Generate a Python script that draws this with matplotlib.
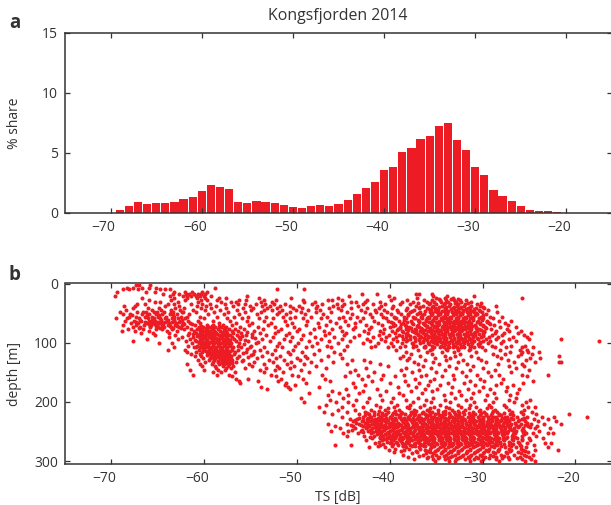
import numpy as np
import matplotlib
matplotlib.use('Agg')
import matplotlib.pyplot as plt
from matplotlib.transforms import ScaledTranslation

# histogram, % share per 1 dB bin
ts_bins = list(range(-69, -17))
share = [0.25, 0.58, 0.92, 0.75, 0.83, 0.83, 0.92, 1.17, 1.33, 1.83, 2.33, 2.17, 2.0,
         0.92, 0.83, 1.0, 0.92, 0.83, 0.67, 0.5, 0.42, 0.58, 0.67, 0.58, 0.75, 1.08,
         1.58, 2.08, 2.58, 3.58, 3.83, 5.08, 5.42, 6.17, 6.42, 7.25, 7.5, 6.08, 5.25,
         3.83, 3.17, 1.92, 1.42, 1.0, 0.58, 0.25, 0.17, 0.17, 0.08, 0.02, 0.02, 0.02]

# scatter, read row by row: one depth, the TS values seen around it
depth_top = [3, 7, 10, 14, 17, 21, 24, 28, 31, 35, 38, 42, 45, 49, 52, 56, 59, 63, 66, 70,
             73, 77, 80, 84]
ts_top = [
    [-67.4, -67.0, -65.8],
    [-68.3, -67.7, -66.7, -66.0, -65.2, -58.8],
    [-68.7, -68.1, -67.1, -64.8, -64.2, -63.7, -52.1, -49.2],
    [-69.4, -66.3, -65.3, -63.2, -62.1, -61.3, -60.2, -59.7],
    [-64.4, -63.4, -62.7, -62.0, -61.6, -61.1, -60.7, -60.3, -59.9, -43.0, -41.4, -37.2, -36.9, -35.5],
    [-69.6, -63.7, -62.3, -61.9, -61.4, -60.9, -60.5, -60.0, -59.3, -55.4, -44.4, -40.1, -35.3, -33.8, -30.9],
    [-66.7, -63.2, -61.8, -60.8, -59.9, -58.4, -57.7, -54.1, -50.6, -45.6, -39.5, -37.1, -35.0, -34.1, -33.2, -25.7],
    [-65.9, -63.6, -62.1, -60.3, -59.7, -58.6, -56.3, -55.5, -53.6, -52.3, -49.4, -46.7, -46.2, -45.2, -42.5, -39.9, -38.1, -36.3, -35.4, -34.6, -33.9, -33.1, -32.4, -31.8],
    [-65.3, -64.8, -62.8, -60.7, -58.2, -57.1, -56.6, -53.9, -52.7, -49.2, -48.1, -44.2, -43.6, -42.7, -41.0, -38.7, -37.5, -36.0, -35.2, -34.5, -33.7, -32.9, -32.3, -31.2],
    [-67.2, -66.4, -63.9, -63.2, -61.4, -60.2, -59.4, -57.8, -56.4, -55.6, -54.4, -53.4, -52.5, -51.3, -48.4, -47.3, -45.7, -44.9, -42.9, -41.8, -40.5, -38.9, -37.8, -35.8, -35.0, -34.2, -33.5, -32.7, -31.9, -30.6],
    [-68.6, -67.5, -64.2, -62.7, -60.8, -59.8, -58.7, -56.9, -55.1, -53.8, -52.9, -51.8, -50.8, -49.8, -47.8, -46.1, -45.1, -43.4, -40.9, -39.6, -37.2, -36.4, -35.3, -34.4, -33.6, -32.8, -32.0, -31.2, -30.3, -28.6],
    [-67.7, -66.1, -64.9, -63.1, -62.2, -60.3, -59.3, -57.6, -55.8, -54.7, -53.2, -52.1, -50.4, -49.5, -48.0, -46.6, -45.6, -44.2, -42.4, -41.2, -39.8, -38.1, -36.9, -36.0, -35.1, -34.1, -33.2, -32.4, -31.6, -30.7, -29.8],
    [-68.4, -65.6, -64.7, -63.6, -62.6, -61.2, -59.9, -58.3, -56.5, -55.0, -53.6, -52.7, -51.6, -50.1, -48.8, -47.5, -45.3, -43.1, -41.6, -40.6, -39.2, -38.3, -37.4, -35.6, -34.8, -33.9, -33.0, -32.1, -31.3, -30.4, -29.4],
    [-69.1, -67.2, -66.3, -65.4, -64.3, -63.4, -62.4, -60.9, -58.9, -57.4, -55.6, -53.9, -51.9, -50.7, -49.6, -47.9, -46.3, -44.6, -42.7, -41.5, -40.3, -39.1, -37.8, -36.7, -35.7, -34.9, -34.0, -33.3, -32.5, -31.7, -30.9, -30.1, -28.4],
    [-68.7, -68.0, -66.7, -65.9, -65.2, -64.6, -63.7, -62.9, -61.6, -59.6, -57.9, -56.2, -54.3, -52.2, -51.2, -49.1, -47.2, -44.1, -42.1, -40.9, -39.9, -38.8, -38.0, -37.1, -36.3, -35.5, -34.6, -33.8, -32.9, -32.2, -31.4, -30.6, -29.6],
    [-68.1, -67.4, -66.4, -65.6, -65.0, -64.1, -63.3, -62.5, -61.9, -60.4, -58.6, -56.8, -55.3, -53.3, -51.5, -50.2, -48.5, -46.8, -45.0, -43.5, -41.9, -40.7, -39.5, -38.5, -37.5, -36.6, -35.9, -35.1, -34.3, -33.5, -32.7, -31.9, -31.1, -30.2, -29.2, -27.9],
    [-69.5, -68.3, -67.0, -66.1, -65.4, -64.8, -64.2, -63.5, -62.8, -62.1, -60.0, -57.5, -55.9, -54.1, -52.6, -50.8, -49.3, -47.4, -45.5, -44.3, -42.9, -40.4, -39.3, -38.2, -37.3, -36.5, -35.8, -35.0, -34.1, -33.4, -32.6, -31.8, -31.0, -30.0, -28.9],
    [-68.5, -67.6, -66.8, -66.0, -65.3, -64.7, -64.0, -63.2, -62.6, -61.7, -60.7, -59.0, -57.2, -55.4, -53.5, -51.3, -48.9, -46.4, -44.8, -43.2, -41.7, -40.2, -39.0, -37.7, -36.8, -36.1, -35.4, -34.7, -33.8, -33.1, -32.3, -31.5, -30.5, -29.5, -28.2, -26.9],
    [-67.9, -67.1, -66.2, -65.5, -64.9, -64.4, -63.8, -63.0, -62.3, -61.5, -60.5, -58.4, -56.6, -54.8, -52.8, -50.5, -47.7, -45.8, -43.8, -41.3, -39.7, -38.6, -37.6, -36.4, -35.6, -34.9, -34.2, -33.6, -32.8, -32.0, -31.2, -30.3, -29.3, -27.6],
    [-68.8, -67.3, -66.5, -65.7, -65.1, -64.5, -63.9, -63.1, -62.4, -61.0, -59.7, -59.1, -58.0, -57.0, -55.2, -53.1, -51.1, -49.0, -46.9, -44.5, -42.6, -40.8, -39.4, -38.4, -37.0, -36.2, -35.5, -34.8, -34.0, -33.2, -32.4, -31.6, -30.8, -29.9, -28.8, -27.3],
    [-67.7, -66.9, -65.8, -65.0, -64.3, -63.6, -62.7, -61.8, -60.6, -60.1, -59.5, -58.8, -58.2, -57.6, -56.1, -54.2, -52.4, -50.3, -47.6, -45.4, -43.7, -42.0, -40.0, -38.9, -37.9, -36.8, -36.0, -35.2, -34.4, -33.7, -33.0, -32.2, -31.5, -30.7, -29.7, -28.1, -26.4],
    [-68.2, -66.6, -65.2, -64.6, -63.5, -62.2, -61.4, -60.8, -60.2, -59.7, -59.2, -58.5, -57.9, -57.3, -56.7, -55.7, -53.7, -51.7, -49.8, -48.2, -46.2, -44.0, -42.2, -40.6, -39.1, -38.3, -37.3, -36.5, -35.7, -34.9, -34.2, -33.4, -32.6, -31.9, -31.2, -30.4, -29.1, -27.4],
    [-68.9, -67.5, -65.9, -64.0, -62.9, -61.1, -60.4, -59.9, -59.4, -58.9, -58.3, -57.7, -57.0, -56.4, -54.6, -52.0, -50.0, -47.1, -45.1, -42.8, -41.1, -39.8, -38.7, -37.6, -36.7, -35.9, -35.1, -34.5, -33.8, -33.1, -32.3, -31.4, -30.6, -29.8, -28.6, -27.1, -25.9],
    [-66.8, -65.5, -63.8, -61.6, -60.9, -60.3, -59.8, -59.3, -58.7, -58.1, -57.5, -56.9, -56.0, -54.0, -52.4, -50.9, -48.6, -46.5, -44.7, -42.3, -40.7, -39.4, -38.1, -37.2, -36.4, -35.6, -34.8, -34.1, -33.3, -32.5, -31.7, -30.9, -30.0, -28.7, -27.7, -26.2, -24.8],
]

depth_mid = [87, 91, 94, 98, 101, 105, 108, 112, 115, 119, 122, 126, 129, 133, 136, 140,
             143, 147, 150, 154, 157, 161, 164, 168, 171, 175, 178, 182, 185, 189]
ts_mid = [
    [-65.3, -63.1, -61.7, -60.7, -60.1, -59.6, -59.0, -58.4, -57.8, -57.2, -56.5, -55.5, -53.3, -51.2, -49.3, -47.0, -44.9, -43.3, -41.2, -40.1, -39.0, -38.0, -37.0, -36.2, -35.4, -34.7, -34.0, -33.2, -32.4, -31.6, -30.8, -30.0, -29.0, -27.9, -25.5],
    [-63.8, -62.4, -61.2, -60.5, -59.9, -59.4, -58.9, -58.3, -57.6, -57.0, -56.3, -54.8, -52.6, -50.5, -48.1, -46.0, -43.9, -41.8, -40.4, -39.3, -38.3, -37.4, -36.6, -35.8, -35.0, -34.3, -33.5, -32.7, -31.9, -31.0, -30.2, -29.3, -28.3, -26.7, -25.2],
    [-66.2, -62.8, -61.5, -60.2, -59.7, -59.2, -58.6, -58.0, -57.4, -56.8, -56.1, -53.8, -51.4, -49.6, -47.4, -45.2, -42.5, -40.9, -39.6, -38.6, -37.8, -36.9, -36.1, -35.3, -34.6, -33.9, -33.1, -32.2, -31.3, -30.5, -29.6, -28.5, -27.2, -25.0, -21.6],
    [-67.7, -62.0, -60.9, -60.3, -59.8, -59.1, -58.5, -57.9, -57.3, -56.6, -55.3, -52.9, -50.7, -48.7, -46.5, -44.3, -42.1, -40.5, -39.2, -38.2, -37.3, -36.4, -35.6, -34.8, -34.0, -33.3, -32.5, -31.7, -30.9, -30.0, -29.2, -27.8, -26.4, -17.5],
    [-64.9, -63.5, -61.3, -60.6, -60.0, -59.5, -58.9, -58.2, -57.7, -57.1, -56.2, -54.4, -51.9, -49.9, -47.8, -45.6, -42.9, -41.3, -39.9, -38.7, -37.6, -36.7, -35.9, -35.1, -34.3, -33.6, -32.8, -32.0, -31.1, -30.3, -29.4, -28.0],
    [-61.7, -60.8, -60.1, -59.6, -59.0, -58.4, -57.8, -57.2, -56.4, -55.0, -52.2, -50.2, -48.4, -46.8, -44.6, -41.6, -39.7, -38.4, -37.2, -36.2, -35.4, -34.5, -33.7, -33.0, -32.1, -31.2, -30.4, -29.0, -26.9, -25.4],
    [-63.3, -61.1, -60.4, -59.8, -59.3, -58.7, -58.1, -57.5, -56.9, -56.0, -53.6, -51.6, -49.0, -46.3, -42.0, -40.2, -38.9, -37.5, -36.3, -35.2, -34.2, -33.2, -32.3, -31.4, -30.1, -28.7, -27.5, -25.8, -24.6],
    [-63.9, -62.1, -60.6, -60.0, -59.5, -58.8, -58.3, -57.7, -57.0, -56.4, -54.0, -52.4, -50.4, -47.6, -44.9, -39.3, -37.0, -35.7, -33.8, -32.6, -31.5, -29.7, -28.1, -26.0, -25.2],
    [-61.9, -60.9, -60.2, -59.7, -59.1, -58.6, -58.0, -57.4, -56.7, -55.5, -53.2, -51.0, -49.5, -46.0, -38.2, -36.0, -34.4, -33.1, -30.7, -27.0, -25.7, -25.1, -23.9],
    [-61.4, -60.5, -59.6, -59.0, -58.4, -57.9, -57.3, -56.8, -54.7, -52.7, -50.7, -48.2, -45.4, -37.7, -35.5, -32.4, -28.9, -27.6, -25.9, -24.7],
    [-61.0, -60.3, -59.3, -58.7, -58.2, -57.6, -57.1, -56.3, -53.8, -51.8, -49.1, -46.7, -38.6, -36.7, -34.1, -33.0, -31.2, -28.4, -26.2, -21.8],
    [-60.1, -59.4, -58.8, -58.3, -57.8, -57.2, -56.5, -54.3, -52.3, -50.0, -48.9, -45.2, -38.9, -37.9, -35.1, -33.5, -30.5, -28.0, -24.9, -23.8],
    [-60.7, -59.5, -58.9, -58.1, -57.5, -57.0, -55.8, -53.0, -51.4, -49.7, -47.4, -44.1, -42.8, -38.1, -36.2, -33.9, -32.1, -30.2, -27.3, -25.3],
    [-59.9, -59.1, -58.5, -57.7, -57.2, -56.6, -54.6, -52.6, -50.6, -48.5, -46.1, -42.1, -37.4, -35.3, -32.7, -29.6, -26.6, -24.3, -21.8, -21.5],
    [-61.8, -60.4, -59.2, -58.4, -57.9, -57.3, -55.2, -53.5, -51.1, -49.2, -44.6, -41.0, -37.0, -34.7, -31.7, -28.3, -25.8],
    [-60.2, -58.8, -58.0, -57.4, -56.9, -54.9, -52.1, -50.3, -47.9, -40.2, -36.4, -33.6, -31.0, -27.1, -25.5],
    [-58.7, -57.6, -57.1, -55.6, -53.3, -51.9, -50.8, -46.9, -42.6, -38.3, -35.6, -32.9, -30.0, -26.4],
    [-61.5, -60.0, -58.5, -57.8, -54.0, -52.4, -49.6, -43.8, -38.8, -36.9, -34.0, -31.4, -28.7, -25.0],
    [-59.0, -58.2, -56.7, -53.6, -51.5, -48.7, -44.3, -41.7, -37.6, -35.0, -32.2, -29.4, -26.9],
    [-61.2, -58.6, -57.3, -52.8, -50.5, -47.3, -43.4, -40.7, -38.5, -36.1, -33.2, -30.6, -28.2, -23.0, -25.7],
    [-57.0, -52.3, -49.9, -44.8, -42.3, -39.4, -36.6, -34.4, -31.8, -29.1, -25.2],
    [-56.6, -55.3, -51.7, -49.4, -47.0, -43.0, -40.9, -37.3, -35.2, -33.1, -30.3, -27.8],
    [-56.2, -54.2, -52.0, -46.4, -41.9, -38.4, -35.7, -31.3, -29.8, -24.6],
    [-56.1, -51.2, -49.0, -44.0, -40.0, -36.8, -33.7, -32.0, -28.0, -25.6],
    [-51.3, -50.2, -42.7, -38.0, -35.9, -34.6, -30.8, -28.5, -26.7],
    [-53.9, -51.0, -47.6, -43.7, -39.1, -37.2, -33.3, -29.9, -27.4],
    [-53.2, -50.8, -44.7, -41.4, -36.2, -34.9, -31.6, -29.2, -26.1],
    [-46.2, -42.9, -40.4, -37.7, -35.4, -32.5, -30.4, -27.5],
    [-48.7, -45.5, -43.3, -39.0, -36.5, -33.4, -31.0, -28.8, -26.3],
    [-46.7, -44.5, -41.1, -38.6, -34.2, -32.3, -29.5, -27.0],
]

depth_deep = [193, 197, 201, 205, 209, 213, 217, 221, 225, 229, 233, 237, 241, 245, 249, 253,
              257, 261, 265, 269, 273, 277, 281, 285, 289, 293, 297, 300]
ts_deep = [
    [-49.6, -45.0, -42.2, -39.6, -37.0, -35.3, -33.0, -31.2, -28.6, -26.4],
    [-46.4, -43.6, -40.8, -38.2, -36.1, -34.0, -31.8, -29.7, -27.2, -24.9],
    [-49.2, -45.8, -44.5, -42.4, -39.9, -37.5, -35.6, -33.5, -30.9, -28.9, -26.6, -25.3],
    [-46.9, -44.0, -41.5, -39.2, -37.8, -36.3, -34.6, -32.6, -31.4, -29.3, -27.7, -25.7],
    [-47.6, -45.2, -42.9, -41.0, -39.5, -38.1, -36.7, -35.2, -33.9, -32.3, -30.7, -29.1, -27.5, -25.1, -24.3],
    [-45.6, -43.8, -42.0, -40.5, -39.0, -37.4, -36.0, -34.8, -33.3, -31.9, -30.3, -28.7, -27.1, -25.5],
    [-47.1, -44.6, -42.7, -41.7, -40.2, -38.8, -37.7, -36.4, -35.5, -34.3, -33.1, -32.1, -31.0, -29.8, -28.4, -26.8, -25.9, -24.7],
    [-46.2, -43.3, -42.2, -41.3, -40.4, -39.3, -38.4, -37.3, -36.2, -35.1, -34.1, -33.0, -32.0, -30.8, -29.6, -28.2, -27.0, -25.6, -24.2, -20.7],
    [-45.1, -42.9, -42.0, -41.1, -40.0, -39.0, -38.0, -37.0, -36.0, -35.3, -34.5, -33.6, -32.7, -31.6, -30.5, -29.4, -28.6, -27.4, -26.3, -25.2, -18.7, -22.3, -23.6],
    [-44.3, -43.5, -42.5, -41.6, -40.7, -39.8, -38.8, -37.9, -37.1, -36.3, -35.4, -34.6, -33.7, -32.9, -32.0, -31.1, -30.2, -29.3, -28.4, -27.6, -26.7, -25.8, -24.5, -22.9],
    [-44.0, -43.0, -42.1, -41.4, -40.5, -39.6, -38.6, -37.6, -36.7, -35.9, -35.0, -34.2, -33.3, -32.4, -31.5, -30.7, -29.9, -29.0, -28.1, -27.2, -26.2, -25.4, -24.0, -22.1],
    [-46.7, -44.6, -43.3, -42.4, -41.8, -41.0, -40.1, -39.3, -38.4, -37.5, -36.5, -35.6, -34.8, -33.9, -33.0, -32.2, -31.4, -30.4, -29.5, -28.7, -27.8, -26.9, -25.9, -24.8, -21.6, -23.4],
    [-45.9, -44.0, -42.9, -42.2, -41.5, -40.7, -39.9, -39.1, -38.2, -37.2, -36.4, -35.5, -34.7, -33.8, -33.1, -32.3, -31.3, -30.5, -29.7, -28.8, -27.9, -27.0, -26.1, -25.1, -24.1],
    [-45.4, -43.7, -42.6, -41.9, -41.2, -40.4, -39.5, -38.7, -37.9, -37.0, -36.1, -35.2, -34.4, -33.5, -32.7, -31.9, -31.0, -30.1, -29.3, -28.5, -27.6, -26.6, -25.6, -24.4, -22.7],
    [-46.3, -44.5, -43.1, -42.3, -41.5, -40.8, -40.0, -39.2, -38.3, -37.4, -36.6, -35.8, -34.9, -34.0, -33.2, -32.4, -31.6, -30.7, -29.8, -28.9, -28.0, -27.3, -26.4, -25.5, -23.9],
    [-45.0, -43.4, -42.0, -41.2, -40.3, -39.5, -38.5, -37.7, -36.8, -35.9, -35.1, -34.3, -33.4, -32.6, -31.7, -30.9, -30.0, -29.2, -28.3, -27.4, -26.5, -25.3, -24.6, -23.0, -22.4],
    [-44.6, -42.8, -41.7, -40.9, -40.1, -39.3, -38.4, -37.5, -36.6, -35.7, -34.8, -34.0, -33.1, -32.2, -31.3, -30.4, -29.6, -28.7, -27.8, -26.8, -25.7, -24.2],
    [-41.9, -41.1, -40.2, -39.4, -38.6, -37.8, -36.9, -36.0, -35.2, -34.4, -33.5, -32.7, -31.8, -30.9, -30.0, -29.1, -28.2, -27.5, -26.3, -25.0, -23.5],
    [-42.6, -40.8, -39.7, -38.9, -37.6, -36.7, -35.8, -34.7, -33.8, -33.0, -32.1, -31.2, -30.3, -29.4, -28.6, -27.7, -26.7, -25.8, -24.9],
    [-41.6, -40.0, -38.7, -37.3, -36.3, -35.5, -34.5, -33.6, -32.8, -31.9, -31.1, -30.2, -29.3, -28.1, -27.0, -26.1, -25.2, -23.3, -22.6],
    [-45.9, -44.2, -41.0, -39.1, -37.8, -36.5, -35.4, -34.2, -33.3, -32.5, -31.5, -30.6, -29.5, -28.4, -27.2, -26.0, -24.5],
    [-42.2, -40.5, -38.3, -36.9, -35.6, -34.6, -33.7, -32.9, -32.0, -31.0, -29.9, -28.8, -27.6, -26.4, -25.3, -22.9],
    [-40.1, -38.5, -36.2, -34.9, -34.1, -33.2, -32.3, -31.4, -30.5, -29.6, -28.3, -26.9, -25.6, -24.4, -21.9],
    [-39.5, -37.1, -35.7, -34.4, -33.4, -32.6, -31.7, -30.8, -29.8, -28.9, -27.5, -26.2, -25.1],
    [-38.6, -36.4, -35.0, -33.9, -33.0, -32.1, -31.2, -30.3, -29.2, -28.0, -26.6, -25.5, -24.6],
    [-38.0, -35.9, -34.7, -33.5, -32.4, -31.6, -30.7, -29.7, -28.6, -27.3, -26.0, -25.0],
    [-37.4, -35.3, -34.1, -32.9, -31.9, -30.9, -29.9, -28.5, -27.1, -25.8, -24.8],
    [-35.1, -33.6, -33.0, -31.4, -30.2, -28.2, -25.4, -24.4],
]

# second pass over the dense patches, between the rows above
depth_left = [48, 54, 61, 64.5, 68, 71.5, 75, 82, 86, 89.5, 92.5, 96, 99.5, 103, 106.5, 110, 113.5, 117, 120.5, 124, 127.5, 131, 135]
ts_left = [
    [-66.6, -65.1, -63.6, -62.3],
    [-67.8, -66.2, -64.9, -63.4],
    [-66.9, -65.6, -64.7, -63.9, -63.2, -62.4],
    [-67.3, -66.4, -65.7, -65.0, -64.2, -63.5, -62.7],
    [-66.0, -65.3, -64.6, -63.8, -63.0, -62.2, -61.3],
    [-65.8, -65.2, -64.4, -63.7, -62.9, -60.3, -59.2, -58.4],
    [-67.0, -64.8, -63.4, -62.5, -60.6, -59.8, -59.0, -57.8],
    [-60.2, -59.6, -58.8, -58.0, -55.4],
    [-61.2, -60.4, -59.8, -59.2, -58.6, -57.9, -54.8],
    [-60.8, -60.2, -59.5, -58.9, -58.1, -57.5, -55.9],
    [-60.5, -59.9, -59.3, -58.7, -58.2, -57.6, -54.5],
    [-61.0, -60.4, -59.7, -59.0, -58.4, -57.8, -57.2, -55.6],
    [-60.6, -60.0, -59.4, -58.8, -58.0, -57.4, -54.2],
    [-60.3, -59.8, -59.1, -58.5, -57.9, -57.3, -55.7],
    [-60.9, -60.2, -59.6, -58.9, -58.3, -57.6, -57.0, -55.1],
    [-60.1, -59.3, -58.7, -58.1, -57.5, -55.4],
    [-59.8, -59.0, -58.4, -57.9, -57.2, -54.6],
    [-59.4, -58.8, -58.2, -57.6, -55.8],
    [-59.7, -59.1, -58.5, -57.7, -57.3, -55.0],
    [-59.2, -58.6, -58.0, -57.4, -55.3],
    [-58.9, -58.3, -57.8, -57.1],
    [-58.5, -57.9, -57.4, -55.9],
    [-58.2, -57.6, -57.0],
]

depth_upper = [26, 33, 40, 43.5, 47, 50.5, 54, 57.5, 61, 64.5, 68, 71.5, 75, 78.5, 82, 85.5, 89, 92.5, 96, 99.5, 103, 106.5, 110]
ts_upper = [
    [-34.7, -33.4, -32.6],
    [-37.0, -35.7, -34.0, -33.0, -31.6, -30.2],
    [-36.7, -35.5, -34.7, -33.9, -33.1, -32.3, -31.4, -30.0],
    [-35.8, -34.9, -34.1, -33.4, -32.6, -31.8, -30.9],
    [-37.6, -36.2, -35.1, -34.4, -33.7, -32.9, -32.1, -31.2, -30.3],
    [-36.9, -35.4, -34.6, -33.8, -33.0, -32.2, -31.5, -30.7],
    [-38.0, -36.5, -35.6, -34.8, -34.0, -33.2, -32.4, -31.6, -30.8, -29.9],
    [-39.4, -37.4, -36.0, -35.2, -34.5, -33.7, -32.9, -32.1, -31.3, -30.4],
    [-38.5, -37.0, -36.1, -35.3, -34.4, -33.6, -32.8, -32.0, -31.0, -30.1],
    [-39.9, -38.1, -36.8, -35.8, -35.0, -34.2, -33.4, -32.5, -31.7, -30.6, -29.5],
    [-38.8, -37.5, -36.3, -35.5, -34.7, -33.9, -33.1, -32.3, -31.4, -30.3, -29.2],
    [-39.6, -38.2, -37.1, -36.0, -35.1, -34.3, -33.5, -32.7, -31.9, -31.1, -30.0],
    [-38.9, -37.7, -36.6, -35.7, -34.9, -34.0, -33.2, -32.4, -31.6, -30.7, -29.6],
    [-39.2, -38.0, -37.2, -36.2, -35.4, -34.6, -33.8, -33.0, -32.2, -31.3, -30.2],
    [-38.6, -37.4, -36.5, -35.6, -34.8, -34.1, -33.3, -32.5, -31.7, -30.8, -29.8],
    [-38.3, -37.0, -36.1, -35.2, -34.4, -33.6, -32.8, -32.0, -31.2, -30.4],
    [-38.7, -37.8, -36.7, -35.9, -35.1, -34.3, -33.5, -32.6, -31.8, -31.0, -29.9],
    [-37.3, -36.3, -35.5, -34.7, -33.9, -33.1, -32.3, -31.5, -30.6],
    [-38.1, -36.9, -36.0, -35.0, -34.2, -33.4, -32.7, -31.9, -31.1],
    [-36.4, -35.3, -34.5, -33.7, -32.9, -32.1, -31.2, -30.3],
    [-37.5, -35.8, -34.9, -34.0, -33.2, -32.4, -31.6, -30.5],
    [-36.2, -34.6, -33.6, -32.8, -32.0, -30.9],
    [-35.4, -33.9, -32.6, -31.4],
]

depth_core = [211, 215, 219, 223, 227, 231, 235, 239, 243, 247, 251, 255, 259, 263, 267, 271, 275, 279, 283, 287, 291, 295]
ts_core = [
    [-40.2, -37.9, -35.7, -33.6, -31.5, -29.5],
    [-41.2, -39.4, -37.2, -35.8, -34.0, -32.6, -30.4, -28.9],
    [-42.4, -40.8, -39.6, -38.7, -37.5, -36.5, -35.7, -34.8, -33.6, -32.5, -31.5, -30.2, -29.0, -27.7],
    [-42.7, -41.7, -40.8, -39.8, -38.9, -37.8, -36.8, -35.7, -34.7, -33.5, -32.5, -31.4, -30.3, -29.1, -28.0, -26.7],
    [-43.3, -42.3, -41.3, -40.4, -39.4, -38.5, -37.5, -36.6, -35.6, -34.9, -34.0, -33.1, -32.3, -31.3, -30.0, -29.0, -27.9, -26.9, -25.5],
    [-43.8, -42.9, -41.9, -41.1, -40.2, -39.3, -38.3, -37.4, -36.4, -35.5, -34.6, -33.7, -32.8, -31.9, -30.9, -30.0, -29.0, -28.0, -27.1, -26.1],
    [-43.6, -42.7, -41.7, -40.9, -40.0, -39.1, -38.1, -37.2, -36.3, -35.4, -34.5, -33.6, -32.7, -31.8, -30.9, -30.0, -29.2, -28.3, -27.4, -26.5, -25.2],
    [-44.2, -43.1, -42.2, -41.4, -40.5, -39.7, -38.8, -38.0, -37.1, -36.0, -35.1, -34.3, -33.4, -32.6, -31.7, -30.8, -30.0, -29.1, -28.2, -27.3, -26.4, -25.4],
    [-42.6, -41.6, -40.9, -40.1, -39.4, -38.5, -37.6, -36.7, -35.8, -35.0, -34.1, -33.2, -32.4, -31.5, -30.6, -29.8, -29.0, -28.1, -27.2, -26.2, -24.9],
    [-44.1, -43.0, -42.1, -41.3, -40.6, -39.8, -38.9, -38.1, -37.3, -36.4, -35.5, -34.6, -33.7, -32.9, -32.0, -31.1, -30.2, -29.4, -28.6, -27.7, -26.8, -25.7],
    [-42.9, -41.8, -41.0, -40.2, -39.4, -38.6, -37.8, -36.9, -36.1, -35.2, -34.4, -33.6, -32.8, -31.9, -31.0, -30.1, -29.2, -28.4, -27.5, -26.6, -25.6],
    [-41.4, -40.5, -39.7, -38.9, -38.0, -37.1, -36.3, -35.4, -34.6, -33.7, -32.8, -32.0, -31.2, -30.3, -29.5, -28.6, -27.7, -26.7, -25.5],
    [-42.1, -41.1, -40.3, -39.5, -38.7, -37.9, -37.0, -36.2, -35.3, -34.5, -33.6, -32.7, -31.9, -31.0, -30.1, -29.3, -28.4, -27.4, -26.5],
    [-40.6, -39.9, -39.0, -38.1, -37.3, -36.4, -35.6, -34.7, -33.9, -33.1, -32.2, -31.4, -30.5, -29.6, -28.8, -27.8, -26.8, -25.7],
    [-41.2, -40.3, -39.3, -38.2, -37.0, -36.1, -35.2, -34.3, -33.5, -32.6, -31.7, -30.8, -29.9, -29.0, -28.1, -27.1, -26.2],
    [-40.7, -39.6, -38.4, -37.4, -36.7, -35.8, -34.9, -34.0, -33.2, -32.3, -31.4, -30.4, -29.5, -28.7, -27.7, -26.7],
    [-41.3, -39.8, -38.6, -37.6, -36.3, -35.3, -34.4, -33.6, -32.7, -31.8, -31.0, -30.1, -29.1, -28.0, -26.9, -25.9],
    [-39.4, -37.9, -36.7, -35.7, -34.8, -34.0, -33.1, -32.2, -31.3, -30.3, -29.3, -28.2, -27.1, -25.9],
    [-38.8, -37.2, -36.0, -35.1, -34.3, -33.5, -32.6, -31.7, -30.6, -29.4, -28.3, -27.0, -25.4],
    [-37.6, -36.1, -35.3, -34.5, -33.7, -32.7, -31.8, -30.9, -29.9, -28.7, -27.4, -25.9],
    [-36.8, -35.5, -34.2, -33.3, -32.2, -31.3, -30.1, -28.9, -27.7, -25.3],
    [-36.0, -34.8, -33.7, -32.7, -31.5, -30.5, -29.3, -27.9, -26.3],
]

# third pass, the solid middle of the deep patch
depth_fill = [222, 226, 230, 234, 238, 242, 246, 250, 254, 258, 262, 266, 270, 274]
ts_fill = [
    [-40.5, -39.0, -37.4, -36.0, -34.4, -32.9, -31.1, -29.6, -28.2],
    [-42.1, -40.9, -39.9, -38.9, -38.0, -37.0, -36.1, -35.2, -34.3, -33.3, -32.2, -31.0, -29.9, -28.8, -27.6],
    [-41.7, -40.7, -39.7, -38.7, -37.7, -36.8, -35.9, -35.0, -34.1, -33.2, -32.3, -31.4, -30.4, -29.4, -28.5, -27.5],
    [-42.4, -41.4, -40.4, -39.6, -38.6, -37.6, -36.7, -35.8, -34.9, -34.0, -33.1, -32.2, -31.2, -30.3, -29.5, -28.6, -27.7],
    [-41.9, -40.9, -39.9, -39.0, -38.1, -37.3, -36.2, -35.3, -34.4, -33.5, -32.7, -31.8, -30.9, -30.1, -29.2, -28.3, -27.4],
    [-42.4, -41.2, -40.2, -39.2, -38.3, -37.4, -36.5, -35.6, -34.7, -33.8, -32.9, -32.1, -31.2, -30.3, -29.4, -28.5, -27.6],
    [-41.5, -40.6, -39.6, -38.7, -37.8, -36.9, -36.0, -35.1, -34.2, -33.3, -32.5, -31.6, -30.7, -29.8, -28.9, -28.0, -27.0],
    [-42.0, -41.0, -40.0, -39.1, -38.2, -37.4, -36.5, -35.6, -34.7, -33.8, -33.0, -32.1, -31.3, -30.4, -29.5, -28.7, -27.8],
    [-40.9, -40.1, -39.2, -38.3, -37.5, -36.6, -35.7, -34.9, -34.0, -33.1, -32.3, -31.5, -30.6, -29.7, -28.8, -27.9],
    [-40.7, -39.8, -38.9, -38.1, -37.2, -36.4, -35.5, -34.6, -33.8, -32.9, -32.1, -31.2, -30.4, -29.5, -28.6],
    [-40.4, -39.6, -38.7, -37.8, -36.9, -36.1, -35.2, -34.4, -33.5, -32.7, -31.8, -31.0, -30.1, -29.2, -28.3],
    [-39.9, -38.8, -37.9, -37.0, -36.2, -35.3, -34.5, -33.6, -32.8, -31.9, -31.1, -30.2, -29.3, -28.4],
    [-39.2, -38.0, -36.9, -35.9, -35.0, -34.1, -33.2, -32.4, -31.5, -30.6, -29.7, -28.6],
    [-38.6, -37.3, -36.2, -35.2, -34.3, -33.4, -32.6, -31.7, -30.8, -29.9, -28.9],
]

x_ticks = [-70, -60, -50, -40, -30, -20]
share_ticks = [0, 5, 10, 15]
depth_ticks = [0, 100, 200, 300]

red = '#ed1c24'
dark = '#333333'
W, H = 611, 505

plt.rcParams['font.family'] = ['Open Sans', 'DejaVu Sans']
plt.rcParams['font.size'] = 10
plt.rcParams['text.color'] = dark
plt.rcParams['axes.labelcolor'] = dark
plt.rcParams['xtick.color'] = dark
plt.rcParams['ytick.color'] = dark
plt.rcParams['axes.edgecolor'] = dark


def px_axes(left, top, right, bottom):
    return [left / W, 1 - bottom / H, (right - left) / W, (bottom - top) / H]


def style(ax):
    ax.set_xticks(x_ticks)
    ax.tick_params(direction='in', top=True, right=True, length=3.5, width=0.9, pad=5)
    for s in ax.spines.values():
        s.set_linewidth(1.1)
    # the labels sit a little left of their ticks in the original
    for lab in ax.get_xticklabels():
        lab.set_transform(lab.get_transform() + ScaledTranslation(-7 / 100, 0, fig.dpi_scale_trans))


fig = plt.figure(figsize=(W / 100, H / 100), dpi=100)

ax1 = fig.add_axes(px_axes(65, 33, 612, 213))
ax1.bar(ts_bins, share, width=0.9, color=red, linewidth=0)
ax1.set_xlim(-75, -15)
ax1.set_ylim(0, 15)
ax1.set_yticks(share_ticks)
ax1.set_title('Kongsfjorden 2014', fontsize=11.4, pad=9, x=0.498)
ax1.set_ylabel('% share')
ax1.yaxis.set_label_coords(-0.079, 0.5)
style(ax1)

ax2 = fig.add_axes(px_axes(65, 283.5, 612, 463.7))
groups = [(depth_top, ts_top), (depth_mid, ts_mid), (depth_deep, ts_deep),
          (depth_left, ts_left), (depth_upper, ts_upper), (depth_core, ts_core),
          (depth_fill, ts_fill)]
for depths, rows in groups:
    for d, row in zip(depths, rows):
        ax2.scatter(row, [d] * len(row), s=8.5, color=red, linewidths=0)
ax2.set_xlim(-75, -16.05)
ax2.set_ylim(304.5, 0)
ax2.set_yticks(depth_ticks)
ax2.set_xlabel('TS [dB]')
ax2.xaxis.set_label_coords(0.499, -0.147)
ax2.set_ylabel('depth [m]')
ax2.yaxis.set_label_coords(-0.079, 0.5)
style(ax2)

fig.text(9 / W, 1 - 28 / H, 'a', fontsize=13.5, fontweight='bold')
fig.text(9 / W, 1 - 280 / H, 'b', fontsize=13.5, fontweight='bold')

fig.savefig('out.png', dpi=100)
